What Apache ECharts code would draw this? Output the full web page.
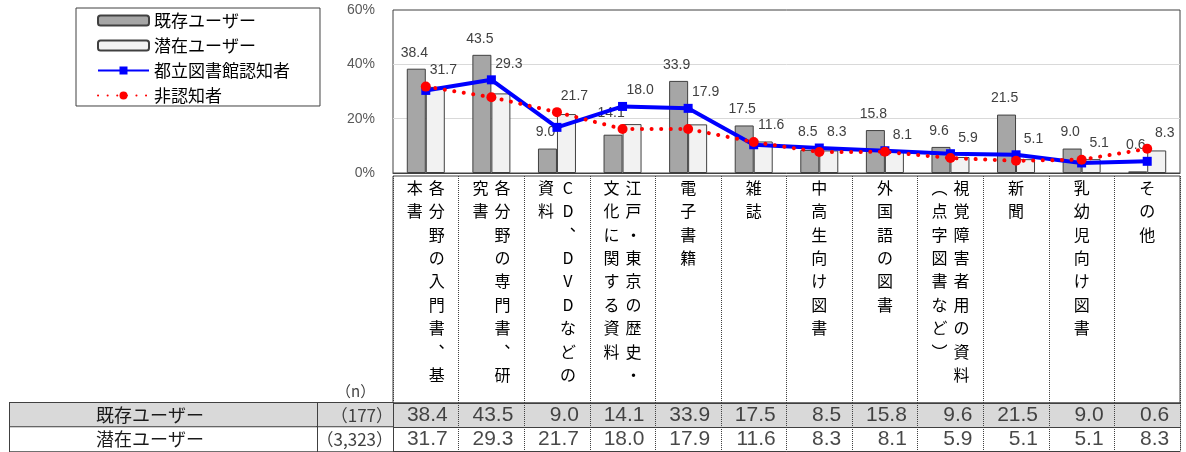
<!DOCTYPE html>
<html>
<head>
<meta charset="utf-8">
<script src="https://cdn.jsdelivr.net/npm/echarts@6/dist/echarts.min.js"></script>
<style>
  html, body { margin: 0; padding: 0; background: #fff; }
  #chart { width: 1186px; height: 452px; }
</style>
</head>
<body>
<div id="chart"></div>
<script>
// 値は図から読み取り
var categories = [
  '各分野の入門書、基本書', '各分野の専門書、研究書', 'CD、DVDなどの資料',
  '江戸・東京の歴史・文化に関する資料', '電子書籍', '雑誌', '中高生向け図書',
  '外国語の図書', '視覚障害者用の資料（点字図書など）', '新聞', '乳幼児向け図書', 'その他'
];
var existingUsers  = [38.4, 43.5, 9.0, 14.1, 33.9, 17.5, 8.5, 15.8, 9.6, 21.5, 9.0, 0.6];
var potentialUsers = [31.7, 29.3, 21.7, 18.0, 17.9, 11.6, 8.3, 8.1, 5.9, 5.1, 5.1, 8.3];
var awareUsers     = [30.4, 34.3, 16.8, 24.5, 23.8, 10.4, 9.2, 8.2, 7.1, 6.7, 3.7, 4.3];
var unawareUsers   = [31.8, 27.9, 22.4, 16.2, 16.2, 11.4, 7.7, 7.8, 5.5, 4.5, 4.9, 8.9];
var rowNames = ['既存ユーザー', '潜在ユーザー'];
var sampleSizes = ['177', '3,323'];
var yMin = 0, yMax = 60, yStep = 20;

var PLOT_H = 163;
var pxPerUnit = PLOT_H / (yMax - yMin);
var numFont = 'Liberation Sans, Arial, sans-serif';
var jpFont = 'Noto Sans CJK JP, sans-serif';

// 縦書き風ラベル (右列 -> 左列)
var vmap = { '、': '︑', '（': '︵', '）': '︶' };
function vertical(name) {
  var chars = Array.from(name).map(function (c) { return vmap[c] || c; });
  var right = chars.slice(0, 9), left = chars.slice(9);
  var lines = [];
  for (var i = 0; i < right.length; i++) {
    if (left.length) lines.push('{c|' + (left[i] || '　') + '}{c|' + right[i] + '}');
    else lines.push('{c|' + right[i] + '}');
  }
  return lines.join('\n');
}

// 線と重なるラベルは線の上へ逃がす
function barItems(vals) {
  return vals.map(function (v, i) {
    var top = v;
    [awareUsers[i], unawareUsers[i]].forEach(function (l) {
      if (l > v && l - v <= 7) top = Math.max(top, l);
    });
    return { value: v, label: { distance: 9 + (top - v) * pxPerUnit } };
  });
}

function tableData(vals, row) {
  return vals.map(function (v, i) { return [categories[i], row, v]; });
}

var barLabel = {
  show: true, position: 'top', fontSize: 14, color: '#404040', fontFamily: numFont,
  formatter: function (p) { return p.value.toFixed(1); }
};

var mychart = echarts.init(document.getElementById('chart'));

var option = {
  animation: false,
  title: {
    text: '（n）', left: 336, top: 384, padding: 0,
    textStyle: { fontSize: 15, fontWeight: 'normal', color: '#404040', fontFamily: jpFont }
  },
  legend: {
    orient: 'vertical', left: 76, top: 8,
    padding: [4, 30, 2, 21], itemGap: 8, itemWidth: 51, itemHeight: 10,
    borderColor: '#404040', borderWidth: 1,
    textStyle: { fontSize: 17, color: '#000', fontFamily: jpFont },
    data: ['既存ユーザー', '潜在ユーザー', '都立図書館認知者', '非認知者']
  },
  grid: [
    { left: 393, right: 6, top: 10, height: PLOT_H, show: true, borderColor: '#404040', borderWidth: 1 },
    { left: 393, right: 6, top: 176, height: 227, show: true, borderColor: '#404040', borderWidth: 1 },
    { left: 393, right: 6, top: 403, height: 49, show: true, borderColor: '#404040', borderWidth: 1 }
  ],
  xAxis: [
    {
      gridIndex: 0, type: 'category', data: categories,
      axisLine: { lineStyle: { color: '#404040' } }, axisTick: { show: false },
      axisLabel: {
        interval: 0, margin: 3, lineHeight: 23.4, formatter: vertical,
        rich: { c: { width: 22, align: 'center', fontSize: 16, lineHeight: 23.4, color: '#000', fontFamily: jpFont } }
      }
    },
    {
      gridIndex: 1, type: 'category', data: categories,
      axisLine: { show: false }, axisTick: { show: false }, axisLabel: { show: false },
      splitLine: { show: true, interval: 0, lineStyle: { color: '#404040', type: 'dotted', width: 1 } }
    },
    {
      gridIndex: 2, type: 'category', data: categories,
      axisLine: { show: false }, axisTick: { show: false }, axisLabel: { show: false },
      splitLine: { show: true, interval: 0, lineStyle: { color: '#404040', type: 'dotted', width: 1 } }
    }
  ],
  yAxis: [
    {
      gridIndex: 0, type: 'value', min: yMin, max: yMax, interval: yStep,
      axisLine: { show: false }, axisTick: { show: false },
      axisLabel: { formatter: '{value}%', margin: 18, fontSize: 14, color: '#595959', fontFamily: numFont },
      splitLine: { show: true, showMinLine: false, showMaxLine: false, lineStyle: { color: '#d9d9d9' } }
    },
    { gridIndex: 1, type: 'value', show: false },
    {
      gridIndex: 2, type: 'category', data: rowNames, inverse: true,
      axisLine: { show: false }, axisTick: { show: false },
      splitLine: { show: true, interval: 0, lineStyle: { color: '#404040' } },
      splitArea: { show: true, interval: 0, areaStyle: { color: ['#d9d9d9', '#ffffff'] } },
      axisLabel: {
        margin: 0, interval: 0, hideOverlap: false,
        formatter: function (v, i) {
          var k = i === 0 ? 'A' : 'B';
          return '{name' + k + '|' + v + '}{n' + k + '|（' + sampleSizes[i] + '）}';
        },
        rich: {
          nameA: { width: 280, padding: [0, 27, 0, 0], height: 24, lineHeight: 24, align: 'center', backgroundColor: '#d9d9d9', borderColor: '#404040', borderWidth: 1, fontSize: 18, color: '#1a1a1a', fontFamily: jpFont },
          nameB: { width: 280, padding: [0, 27, 0, 0], height: 24, lineHeight: 24, align: 'center', backgroundColor: '#ffffff', borderColor: '#404040', borderWidth: 1, fontSize: 18, color: '#1a1a1a', fontFamily: jpFont },
          nA: { width: 76, height: 24, lineHeight: 24, align: 'right', backgroundColor: '#d9d9d9', borderColor: '#404040', borderWidth: 1, fontSize: 17, color: '#404040', fontFamily: jpFont },
          nB: { width: 76, height: 24, lineHeight: 24, align: 'right', backgroundColor: '#ffffff', borderColor: '#404040', borderWidth: 1, fontSize: 17, color: '#404040', fontFamily: jpFont }
        }
      }
    }
  ],
  series: [
    {
      name: '既存ユーザー', type: 'bar', xAxisIndex: 0, yAxisIndex: 0,
      data: barItems(existingUsers), barWidth: 19, barGap: '0%',
      itemStyle: { color: '#a6a6a6', borderColor: '#404040', borderWidth: 1 },
      label: Object.assign({ offset: [-2, 0] }, barLabel)
    },
    {
      name: '潜在ユーザー', type: 'bar', xAxisIndex: 0, yAxisIndex: 0,
      data: barItems(potentialUsers), barWidth: 19, barGap: '0%',
      itemStyle: { color: '#f2f2f2', borderColor: '#404040', borderWidth: 1 },
      label: Object.assign({ offset: [8, 0] }, barLabel)
    },
    {
      name: '都立図書館認知者', type: 'line', xAxisIndex: 0, yAxisIndex: 0,
      data: awareUsers, symbol: 'rect', symbolSize: 9,
      lineStyle: { color: '#0000ff', width: 4 }, itemStyle: { color: '#0000ff' }
    },
    {
      name: '非認知者', type: 'line', xAxisIndex: 0, yAxisIndex: 0,
      data: unawareUsers, symbol: 'circle', symbolSize: 10,
      lineStyle: { color: '#ff0000', width: 4, type: [0.1, 9.5], cap: 'round' }, itemStyle: { color: '#ff0000' }
    },
    {
      type: 'scatter', xAxisIndex: 2, yAxisIndex: 2, symbolSize: 0, silent: true,
      data: tableData(existingUsers, rowNames[0]).concat(tableData(potentialUsers, rowNames[1])),
      itemStyle: { color: 'rgba(0,0,0,0)' },
      label: {
        show: true, position: 'inside', align: 'right', offset: [22, 0],
        fontSize: 21, color: '#1a1a1a', fontFamily: 'Liberation Sans, Arial, sans-serif',
        formatter: function (p) { return p.value[2].toFixed(1); }
      }
    }
  ]
};

mychart.setOption(option);
</script>
</body>
</html>
